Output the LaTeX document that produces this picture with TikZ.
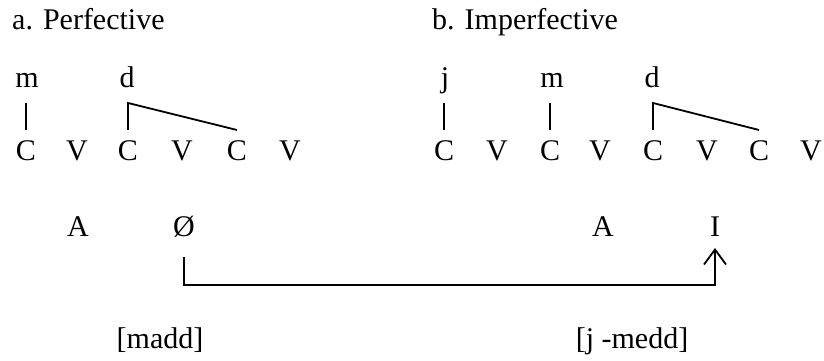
\documentclass[tikz,border=0pt]{standalone}
\usepackage{fontspec}
\setmainfont{Liberation Serif}
\usepackage{tikz}
\usetikzlibrary{arrows.meta,calc}

\begin{document}
\begin{tikzpicture}[
  x=1pt, y=1pt,
  every node/.style={font=\fontsize{30}{36}\selectfont, inner sep=0pt, anchor=base},
  title/.style ={anchor=base west},
  mel/.style   ={text depth=0pt},
  slot/.style  ={},
  assoc/.style ={draw=black, line width=1.8pt},
  arr/.style   ={draw=black, line width=1.8pt, -{Straight Barb[length=15pt,width=22pt]}},
]
\useasboundingbox (0,0) rectangle (824,361);
% ---------------- titles ----------------
\node[title] (ta) at (12,331)  {a. Perfective};
\node[title] (tb) at (432,331) {b. Imperfective};
% ---------------- a: melody and CV skeleton ----------------
\node[mel] (am)  at (27,273)  {m};
\node[mel] (ad)  at (127,273) {d};
\node[slot] (ac1) at (26,200)  {C};
\node[slot] (av1) at (77,200)  {V};
\node[slot] (ac2) at (128,200) {C};
\node[slot] (av2) at (182,200) {V};
\node[slot] (ac3) at (237,200) {C};
\node[slot] (av3) at (290,200) {V};
% ---------------- b: melody and CV skeleton ----------------
\node[mel] (bj)  at (445,273) {j};
\node[mel] (bm)  at (552,273) {m};
\node[mel] (bd)  at (652,273) {d};
\node[slot] (bc1) at (444,200) {C};
\node[slot] (bv1) at (497,200) {V};
\node[slot] (bc2) at (550,200) {C};
\node[slot] (bv2) at (600,200) {V};
\node[slot] (bc3) at (653,200) {C};
\node[slot] (bv3) at (707,200) {V};
\node[slot] (bc4) at (759,200) {C};
\node[slot] (bv4) at (811,200) {V};
% ---------------- vowel melodies ----------------
\node (aa)   at (78,124)  {A};
\node (zero) at (184,124) {Ø};
\node (ba)   at (603,124) {A};
\node (bi)   at (715,124) {I};
% ---------------- outputs ----------------
\node (outa) at (160,12) {[madd]};
\node (outb) at (632,12) {[j -medd]};

% ---------------- association lines ----------------
\draw[assoc] ([yshift=58pt]ac1.base) -- ([yshift=31pt]ac1.base);
\draw[assoc] ([yshift=31pt]ac2.base) -- ([yshift=58pt]ac2.base) -- ([yshift=31pt]ac3.base);
\draw[assoc] ([yshift=58pt]bc1.base) -- ([yshift=31pt]bc1.base);
\draw[assoc] ([yshift=58pt]bc2.base) -- ([yshift=31pt]bc2.base);
\draw[assoc] ([yshift=31pt]bc3.base) -- ([yshift=58pt]bc3.base) -- ([yshift=31pt]bc4.base);
% ---------------- Ø to I ----------------
\draw[arr] ([yshift=-20pt]zero.base) -- ([yshift=-48pt]zero.base) -| ([yshift=-11pt]bi.base);
\end{tikzpicture}
\end{document}
